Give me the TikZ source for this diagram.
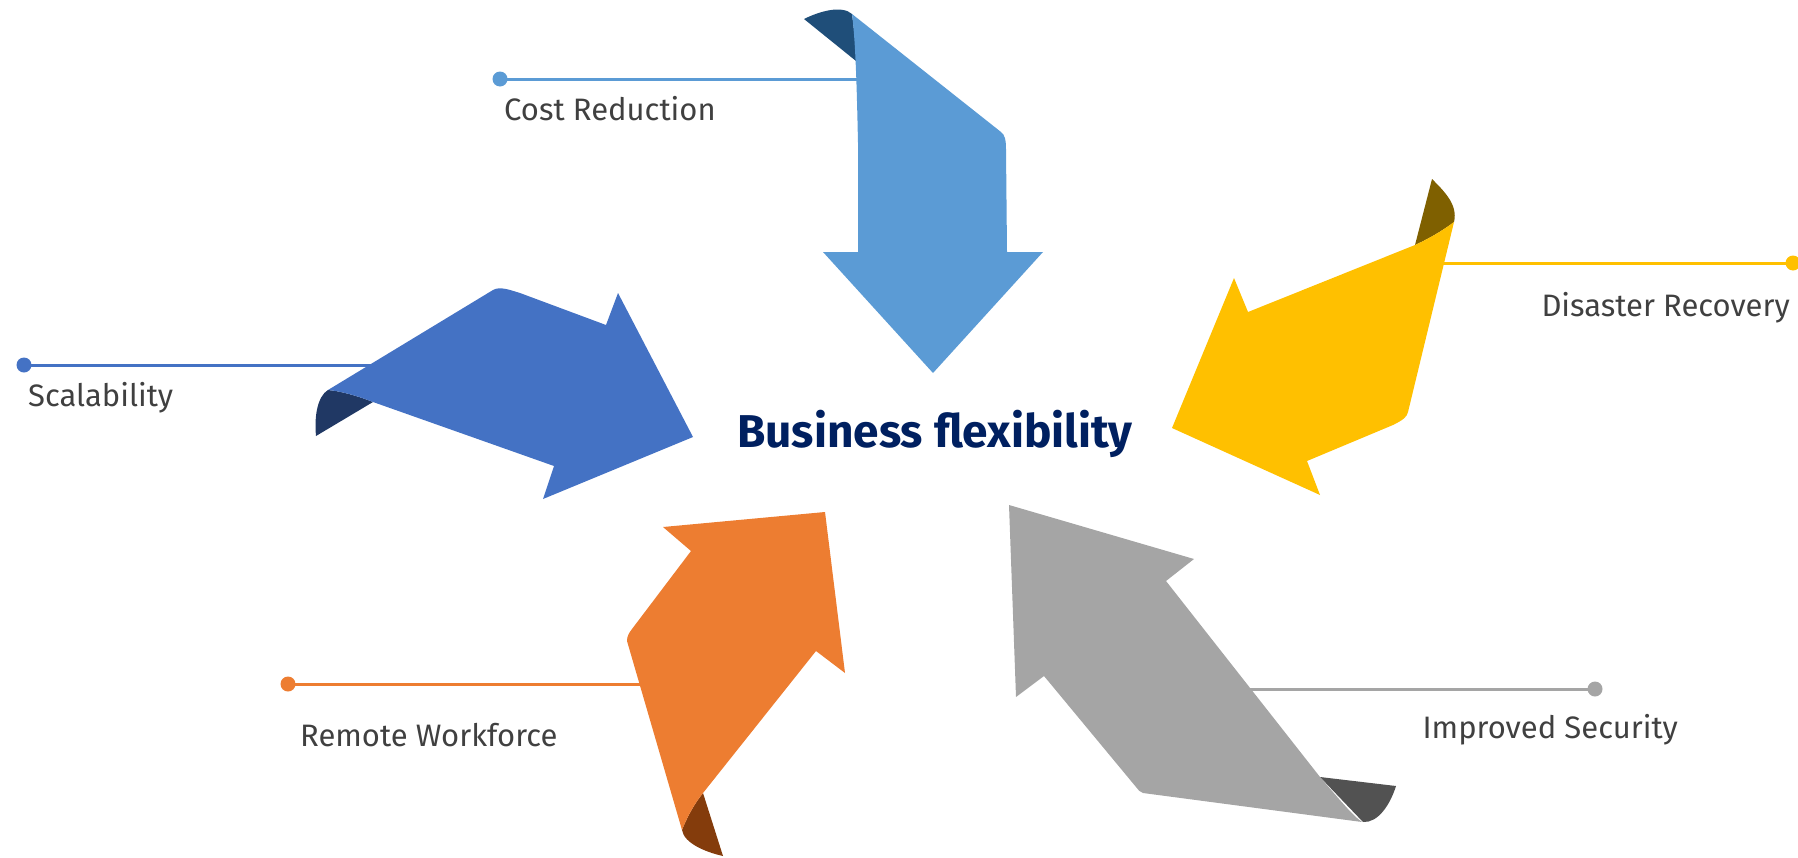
\documentclass[tikz,border=0pt]{standalone}
\usepackage{fontspec}
\setmainfont{Fira Sans}
\definecolor{cA}{HTML}{5B9BD5}\definecolor{cAd}{HTML}{1F4E79}
\definecolor{cB}{HTML}{4472C4}\definecolor{cBd}{HTML}{203864}
\definecolor{cC}{HTML}{FFC000}\definecolor{cCd}{HTML}{7F6000}
\definecolor{cD}{HTML}{ED7D31}\definecolor{cDd}{HTML}{843C0C}
\definecolor{cE}{HTML}{A5A5A5}\definecolor{cEd}{HTML}{525252}
\definecolor{txt}{HTML}{404040}
\definecolor{ttl}{HTML}{002060}
\tikzset{
  dotnode/.style={circle, fill=#1, minimum size=15pt, inner sep=0pt},
  leader/.style={draw=#1, line width=3pt},
  lbl/.style={inner sep=0pt, text=txt, font=\fontsize{31}{36}\selectfont},
}
\begin{document}
\begin{tikzpicture}[x=1pt,y=-1pt]
\useasboundingbox (0,0) rectangle (1798,857);
% leader lines (under arrows)
\node[dotnode=cA] (dA) at (500,79) {};
\coordinate (eA) at (858,79);
\draw[leader=cA] (dA.center) -- (eA);
\node[dotnode=cB] (dB) at (24,365) {};
\coordinate (eB) at (380,365);
\draw[leader=cB] (dB.center) -- (eB);
\node[dotnode=cC] (dC) at (1793,263) {};
\coordinate (eC) at (1440,263);
\draw[leader=cC] (dC.center) -- (eC);
\node[dotnode=cD] (dD) at (288,684) {};
\coordinate (eD) at (650,684);
\draw[leader=cD] (dD.center) -- (eD);
\node[dotnode=cE] (dE) at (1595,689) {};
\coordinate (eE) at (1250,689);
\draw[leader=cE] (dE.center) -- (eE);
% Cost Reduction arrow
\fill[cAd] (804,19) .. controls (820,11) and (842,5) .. (852,14) .. controls (854,30) and (856,45) .. (856,61) -- cycle;
\fill[cA] (852,14) -- (1001,132) .. controls (1005,135) and (1006,140) .. (1006,150) -- (1007,252) -- (1043,252) -- (933,373) -- (823,252) -- (858,252) -- (858,143) .. controls (857,100) and (856,45) .. (852,14) -- cycle;
% Scalability arrow
\fill[cBd] (328,390) .. controls (318,396) and (314,415) .. (316,436) -- (373,402) .. controls (358,396) and (340,391) .. (328,390) -- cycle;
\fill[cB] (328,390) -- (493,290) .. controls (500,286) and (510,290) .. (520,293) -- (606,325) -- (618,293) -- (693,437) -- (543,499) -- (554,466) -- (373,402) .. controls (358,396) and (340,391) .. (328,390) -- cycle;
% Disaster Recovery arrow
\fill[cCd] (1432,179) .. controls (1445,192) and (1458,205) .. (1454,222) .. controls (1442,231) and (1430,238) .. (1415,245) -- cycle;
\fill[cC] (1454,222) .. controls (1442,231) and (1430,238) .. (1415,245) -- (1248,312) -- (1234,278) -- (1172,428) -- (1320,495) -- (1307,461) -- (1393,425) .. controls (1403,420) and (1407,417) .. (1408,412) -- cycle;
% Remote Workforce arrow
\fill[cDd] (703,793) -- (723,856) .. controls (705,852) and (684,843) .. (682,830) .. controls (688,815) and (695,803) .. (703,793) -- cycle;
\fill[cD] (682,830) -- (627,641) .. controls (627,636) and (629,633) .. (632,629) -- (691,551) -- (663,527) -- (825,512) -- (845,673) -- (816,651) -- (703,793) .. controls (695,803) and (688,815) .. (682,830) -- cycle;
% Improved Security arrow
\fill[cEd] (1320,777) -- (1396,786) .. controls (1390,805) and (1378,823) .. (1363,822) -- cycle;
\fill[cE] (1009,505) -- (1194,559) -- (1166,581) -- (1320,777) .. controls (1340,800) and (1352,815) .. (1362,822) -- (1143,793) .. controls (1140,792) and (1138,790) .. (1136,787) -- (1044,676) -- (1016,697) -- cycle;
% labels
\node[lbl, anchor=base west] (tA) at (504,120) {Cost Reduction};
\node[lbl, anchor=base west] (tB) at (28,406) {Scalability};
\node[lbl, anchor=base east] (tC) at (1790,316) {Disaster Recovery};
\node[lbl, anchor=base west] (tD) at (300,746) {Remote Workforce};
\node[lbl, anchor=base east] (tE) at (1678,738) {Improved Security};
\node[inner sep=0pt, anchor=base west, text=ttl, font=\fontsize{46}{54}\selectfont\bfseries] (title) at (737,447) {Business flexibility};
\end{tikzpicture}
\end{document}
